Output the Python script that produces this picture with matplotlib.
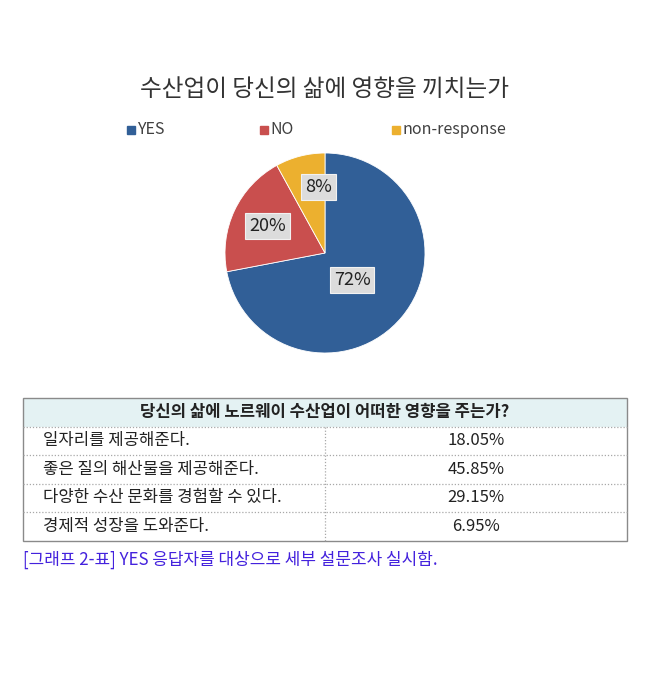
import numpy as np
import matplotlib
matplotlib.use('Agg')
import matplotlib.pyplot as plt
from matplotlib.patches import Rectangle

plt.rcParams['font.family'] = ['Noto Sans CJK KR', 'DejaVu Sans']

# pie data
labels = ['YES', 'NO', 'non-response']
shares = [72, 20, 8]
colors = ['#315f97', '#c94f4e', '#ecb02f']
title = '수산업이 당신의 삶에 영향을 끼치는가'

# table data
table_header = '당신의 삶에 노르웨이 수산업이 어떠한 영향을 주는가?'
items = ['일자리를 제공해준다.', '좋은 질의 해산물을 제공해준다.',
         '다양한 수산 문화를 경험할 수 있다.', '경제적 성장을 도와준다.']
item_values = ['18.05%', '45.85%', '29.15%', '6.95%']
note = '[그래프 2-표] YES 응답자를 대상으로 세부 설문조사 실시함.'

W, H = 650, 700
fig = plt.figure(figsize=(6.5, 7), dpi=100)

# overlay axes in pixel coordinates (y down)
bg = fig.add_axes([0, 0, 1, 1])
bg.set_xlim(0, W)
bg.set_ylim(H, 0)
bg.axis('off')

# title + legend
bg.text(325, 89, title, ha='center', va='center', fontsize=17, color='#333333')
legend_x = [131, 264, 396]
for x, lab, c in zip(legend_x, labels, colors):
    bg.add_patch(Rectangle((x - 4, 126), 8, 8, color=c))
    bg.text(x + 6, 130, lab, ha='left', va='center', fontsize=11.5, color='#404040')

# pie
cx, cy, r = 325, 253, 100
ax = fig.add_axes([(cx - r) / W, (H - cy - r) / H, 2 * r / W, 2 * r / H])
wedges, _ = ax.pie(shares, colors=colors, startangle=90, counterclock=False,
                   radius=1, wedgeprops=dict(linewidth=0.6, edgecolor='white'))
ax.set_xlim(-1, 1)
ax.set_ylim(-1, 1)
ax.set_aspect('equal')

# label distance from centre and angle nudge (deg), like Excel's best fit
label_dist = [0.38, 0.635, 0.66]
label_nudge = [-5, 0, -9]
for w, s, d, nd in zip(wedges, shares, label_dist, label_nudge):
    ang = np.deg2rad((w.theta1 + w.theta2) / 2 + nd)
    ax.text(d * np.cos(ang), d * np.sin(ang), f'{s}%', ha='center', va='center',
            fontsize=13, color='#222222',
            bbox=dict(boxstyle='square,pad=0.22', facecolor='#dcdcdc',
                      edgecolor='#f2f2f2', linewidth=0.8))

# table
left, right, split = 23, 627, 325
top = 398
row_h = 28.5
n = len(items) + 1
bottom = top + row_h * n
bg.add_patch(Rectangle((left, top), right - left, row_h, facecolor='#e4f2f3',
                       edgecolor='none'))
bg.text((left + right) / 2, top + row_h / 2, table_header, ha='center', va='center',
        fontsize=12, fontweight='bold', color='#222222')
for i, (it, v) in enumerate(zip(items, item_values)):
    y = top + row_h * (i + 1)
    bg.plot([left, right], [y, y], color='#a8a8a8', lw=0.9, ls=(0, (1, 1.5)))
    bg.text(left + 20, y + row_h / 2, it, ha='left', va='center', fontsize=12,
            color='#222222')
    bg.text((split + right) / 2, y + row_h / 2, v, ha='center', va='center',
            fontsize=12, color='#222222')
bg.plot([split, split], [top + row_h, bottom], color='#a8a8a8', lw=0.9,
        ls=(0, (1, 1.5)))
bg.add_patch(Rectangle((left, top), right - left, bottom - top, facecolor='none',
                       edgecolor='#8a8a8a', lw=1.0))

bg.text(left, 560, note, ha='left', va='center', fontsize=12.2, color='#4422dd')

fig.savefig('out.png', dpi=100)
